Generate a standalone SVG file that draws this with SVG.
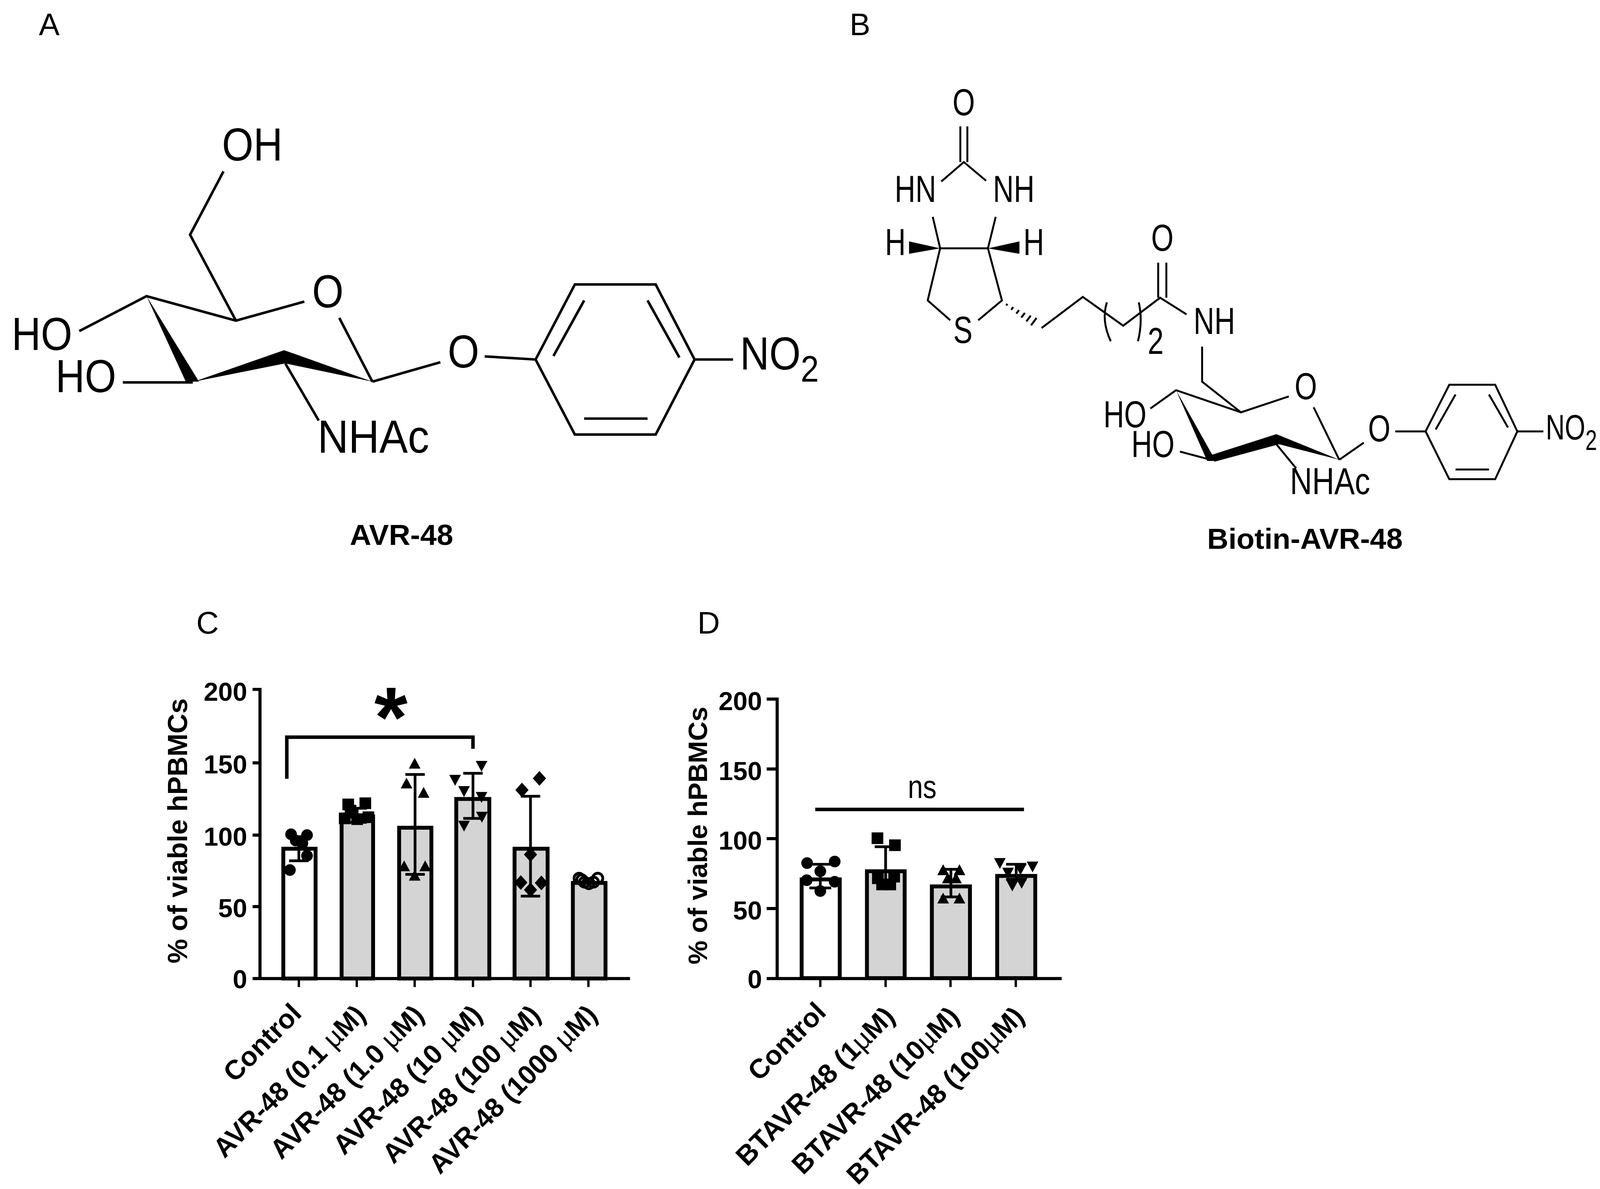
<svg xmlns="http://www.w3.org/2000/svg" width="4145" height="3044" viewBox="0 0 4145 3044">
<style>
text{font-family:"Liberation Sans",Arial,sans-serif;fill:#000}
.panel{font-size:80px}
.atom{font-size:104px}
.atomb{font-size:74px}
.name{font-size:74px;font-weight:bold}
.tick{font-size:67px;font-weight:bold;text-anchor:end}
.ylab{font-size:71px;font-weight:bold;text-anchor:middle}
.xlab{font-size:70px;font-weight:bold;text-anchor:end}
.mu{font-weight:normal}
.bond{fill:none;stroke:#000;stroke-width:6.5;stroke-linecap:butt;stroke-linejoin:miter}
.bondb{fill:none;stroke:#000;stroke-width:5;stroke-linejoin:miter}
.axis{fill:none;stroke:#000;stroke-width:8}
.tk{fill:none;stroke:#000;stroke-width:6}
.bar{stroke:#000;stroke-width:10;fill:#d4d4d4}
.ctl{fill:#fff}
.err{fill:none;stroke:#000;stroke-width:7}
.sig{fill:none;stroke:#000;stroke-width:9}
</style>
<defs>
<circle id="mc" r="15" fill="#000"/>
<circle id="mo" r="13" fill="none" stroke="#000" stroke-width="7"/>
<rect id="ms" x="-15" y="-15" width="30" height="30" fill="#000"/>
<polygon id="mu" points="0,-18 15,10 -15,10" fill="#000"/>
<polygon id="md" points="0,18 15,-10 -15,-10" fill="#000"/>
<polygon id="mk" points="0,-19 17,0 0,19 -17,0" fill="#000"/>
</defs>
<rect width="4145" height="3044" fill="#fff"/>

<g id="panel-a" transform="scale(.995)">
<text class="panel" x="100" y="90">A</text>
<g class="bond">
<path d="M575 441 489 604 607 825"/>
<path d="M783 776 607 825 377 762 204 852"/>
<path d="M316 984H496"/>
<path d="M958 982 873 818"/>
<path d="M734 935 820 1082"/>
<path d="M958 982 1133 932"/>
<path d="M1247 917 1378 925"/>
<path d="M1378 925 1479 732H1687L1787 925 1687 1118H1479Z"/>
<path d="M1424 916 1503 773M1666 773 1748 920M1503 1077H1666"/>
<path d="M1787 925H1886"/>
</g>
<polygon points="377,762 478,982 512,982" fill="#000"/>
<polygon points="499,982 731,901 958,982 734,935" fill="#000"/>
<text class="atom" transform="translate(571 413) scale(1 1.14)">OH</text>
<text class="atom" transform="translate(30 901) scale(1 1.14)">HO</text>
<text class="atom" transform="translate(143 1009) scale(1 1.14)">HO</text>
<text class="atom" transform="translate(803 791) scale(1 1.14)">O</text>
<text class="atom" style="font-size:110px" transform="translate(817 1165) scale(1 1.08)">NHAc</text>
<text class="atom" transform="translate(1152 946) scale(1 1.14)">O</text>
<text class="atom" transform="translate(1904 951) scale(1 1.14)">NO<tspan font-size="84" dy="27">2</tspan></text>
<text class="name" x="900" y="1402" textLength="266" lengthAdjust="spacingAndGlyphs">AVR-48</text>
</g>

<g id="panel-b" transform="translate(10.8 0) scale(.995)">
<text class="panel" x="2175" y="90">B</text>
<g class="bondb">
<path d="M2460 325V417M2478 325V417"/>
<path d="M2411 467 2469 417 2526 465"/>
<path d="M2389 558 2408 639H2531L2551 558"/>
<path d="M2408 639 2376 773 2434 824M2531 639 2567 773 2506 824"/>
<path d="M2669 844 2775 764 2879 838 2974 766 3042 809"/>
<path d="M2969 676V766M2990 676V766"/>
<path d="M2837 778Q2822 825 2847 878M2919 778Q2930 825 2917 878"/>
<path d="M3082 892V982L3182 1061 3305 1020"/>
<path d="M3182 1061 3015 1004 2949 1051"/>
<path d="M3369 1048 3435 1183"/>
<path d="M3108 1184 3025 1162"/>
<path d="M3273 1143 3324 1205"/>
<path d="M3435 1183 3498 1139"/>
<path d="M3579 1110H3657"/>
<path d="M3657 1110 3718 990H3836L3893 1110 3836 1233H3718Z"/>
<path d="M3683 1105 3734 1015M3820 1015 3869 1100M3734 1208H3820"/>
<path d="M3893 1110H3960"/>
<path d="M2578 786 2581 782M2591 797 2596 790M2604 807 2611 798M2617 817 2626 805M2630 827 2641 812M2642 837 2656 818"/>
</g>
<polygon points="2408,639 2328,621 2328,653" fill="#000"/>
<polygon points="2531,639 2612,621 2612,653" fill="#000"/>
<polygon points="3015,1004 3095,1186 3117,1186" fill="#000"/>
<polygon points="3101,1172 3273,1117 3435,1183 3280,1143 3114,1188" fill="#000"/>
<text class="atomb" transform="translate(2440 296) scale(1 1.3)">O</text>
<text class="atomb" transform="translate(2291 520) scale(1 1.3)">HN</text>
<text class="atomb" transform="translate(2544 520) scale(1 1.3)">NH</text>
<text class="atomb" transform="translate(2266 656) scale(1 1.3)">H</text>
<text class="atomb" transform="translate(2622 656) scale(1 1.3)">H</text>
<text class="atomb" transform="translate(2442 882) scale(1 1.3)">S</text>
<text class="atomb" transform="translate(2951 645) scale(1 1.3)">O</text>
<text class="atomb" transform="translate(3060 859) scale(1 1.3)">NH</text>
<text class="atomb" transform="translate(2942 911) scale(1 1.3)">2</text>
<text class="atomb" transform="translate(3320 1027) scale(1 1.3)">O</text>
<text class="atomb" transform="translate(2828 1099) scale(1 1.3)">HO</text>
<text class="atomb" transform="translate(2900 1176) scale(1 1.3)">HO</text>
<text class="atomb" style="font-size:79px" transform="translate(3308 1271) scale(1 1.22)">NHAc</text>
<text class="atomb" transform="translate(3509 1136) scale(1 1.3)">O</text>
<text class="atomb" style="font-size:68px" transform="translate(3966 1131) scale(1 1.35)">NO<tspan font-size="54" dy="20">2</tspan></text>
<text class="name" x="3095" y="1412" textLength="503" lengthAdjust="spacingAndGlyphs">Biotin-AVR-48</text>
</g>

<g id="panel-c">
<g transform="translate(1.9 7.7) scale(.995)">
<text class="panel" x="503" y="1622">C</text>
<rect class="bar ctl" x="727" y="2176" width="83" height="334"/>
<rect class="bar" x="877" y="2093" width="81" height="417"/>
<rect class="bar" x="1025" y="2122" width="83" height="388"/>
<rect class="bar" x="1172" y="2048" width="85" height="462"/>
<rect class="bar" x="1322" y="2176" width="85" height="334"/>
<rect class="bar" x="1472" y="2264" width="84" height="246"/>
<path class="axis" d="M648 1766H667V2510M667 1955H648M667 2141H648M667 2325H648M648 2510H1619"/>
<path class="tk" d="M767 2510V2532M916 2510V2532M1065 2510V2532M1215 2510V2532M1363 2510V2532M1512 2510V2532"/>
<text class="tick" x="634" y="1795">200</text>
<text class="tick" x="634" y="1982">150</text>
<text class="tick" x="634" y="2168">100</text>
<text class="tick" x="634" y="2352">50</text>
<text class="tick" x="634" y="2535">0</text>
<text class="ylab" transform="translate(479 2130) rotate(-90)">% of viable hPBMCs</text>
<g class="err">
<path d="M767 2145V2207M742 2145H792M742 2207H792"/>
<path d="M917 2072V2108M892 2072H942M892 2108H942"/>
<path d="M1066 1985V2242M1041 1985H1091M1041 2242H1091"/>
<path d="M1215 1982V2098M1190 1982H1240M1190 2098H1240"/>
<path d="M1363 2041V2298M1338 2041H1388M1338 2298H1388"/>
</g>
<g>
<use href="#mc" x="747" y="2139"/><use href="#mc" x="788" y="2141"/><use href="#mc" x="759" y="2155"/><use href="#mc" x="776" y="2162"/><use href="#mc" x="788" y="2194"/><use href="#mc" x="744" y="2231"/>
<use href="#ms" x="894" y="2062"/><use href="#ms" x="938" y="2059"/><use href="#ms" x="885" y="2098"/><use href="#ms" x="917" y="2100"/><use href="#ms" x="946" y="2095"/><use href="#ms" x="900" y="2078"/>
<use href="#mu" x="1065" y="1960"/><use href="#mu" x="1044" y="2011"/><use href="#mu" x="1088" y="2035"/><use href="#mu" x="1038" y="2224"/><use href="#mu" x="1092" y="2224"/><use href="#mu" x="1065" y="2248"/>
<use href="#md" x="1237" y="1960"/><use href="#md" x="1169" y="1996"/><use href="#md" x="1192" y="2025"/><use href="#md" x="1237" y="2040"/><use href="#md" x="1238" y="2091"/><use href="#md" x="1192" y="2114"/>
<use href="#mk" x="1386" y="1995"/><use href="#mk" x="1341" y="2025"/><use href="#mk" x="1363" y="2191"/><use href="#mk" x="1338" y="2263"/><use href="#mk" x="1391" y="2264"/><use href="#mk" x="1363" y="2282"/>
<use href="#mo" x="1488" y="2252"/><use href="#mo" x="1502" y="2262"/><use href="#mo" x="1513" y="2266"/><use href="#mo" x="1525" y="2262"/><use href="#mo" x="1536" y="2252"/><use href="#mo" x="1495" y="2256"/>
</g>
<path class="sig" d="M736 1996V1889H1215V1919"/>
<text x="1004" y="1914" font-size="220" font-weight="bold" text-anchor="middle">*</text>
</g>
<g transform="translate(2.5 12.4) scale(.995)">
<text class="xlab" transform="translate(777 2599) rotate(-45)">Control</text>
<text class="xlab" transform="translate(942 2603) rotate(-45)" textLength="519" lengthAdjust="spacingAndGlyphs">AVR-48 (0.1 <tspan class="mu">µ</tspan>M)</text>
<text class="xlab" transform="translate(1092 2603) rotate(-45)" textLength="524" lengthAdjust="spacingAndGlyphs">AVR-48 (1.0 <tspan class="mu">µ</tspan>M)</text>
<text class="xlab" transform="translate(1242 2603) rotate(-45)" textLength="508" lengthAdjust="spacingAndGlyphs">AVR-48 (10 <tspan class="mu">µ</tspan>M)</text>
<text class="xlab" transform="translate(1392 2603) rotate(-45)" textLength="540" lengthAdjust="spacingAndGlyphs">AVR-48 (100 <tspan class="mu">µ</tspan>M)</text>
<text class="xlab" transform="translate(1538 2603) rotate(-45)" textLength="578" lengthAdjust="spacingAndGlyphs">AVR-48 (1000 <tspan class="mu">µ</tspan>M)</text>
</g>
</g>

<g id="panel-d">
<g transform="translate(8.5 7.7) scale(.995)">
<text class="panel" x="1786" y="1622">D</text>
<rect class="bar ctl" x="2054" y="2255" width="98" height="254"/>
<rect class="bar" x="2222" y="2234" width="97" height="275"/>
<rect class="bar" x="2389" y="2273" width="98" height="236"/>
<rect class="bar" x="2557" y="2246" width="98" height="263"/>
<path class="axis" d="M1964 1791H1991V2510M1991 1971H1964M1991 2150H1964M1991 2330H1964M1964 2510H2723"/>
<path class="tk" d="M2102 2510V2532M2270 2510V2532M2437 2510V2532M2605 2510V2532"/>
<text class="tick" x="1952" y="1819">200</text>
<text class="tick" x="1952" y="1999">150</text>
<text class="tick" x="1952" y="2178">100</text>
<text class="tick" x="1952" y="2358">50</text>
<text class="tick" x="1952" y="2535">0</text>
<text class="ylab" style="font-size:69px" transform="translate(1811 2142) rotate(-90)">% of viable hPBMCs</text>
<g class="err">
<path d="M2102 2216V2277M2074 2216H2130M2074 2277H2130"/>
<path d="M2270 2171V2270M2242 2171H2298"/>
<path d="M2438 2229V2300M2412 2229H2464M2412 2300H2464"/>
<path d="M2606 2216V2255M2580 2216H2632M2580 2255H2632"/>
</g>
<g>
<use href="#mc" x="2068" y="2213"/><use href="#mc" x="2139" y="2209"/><use href="#mc" x="2102" y="2234"/><use href="#mc" x="2067" y="2257"/><use href="#mc" x="2139" y="2261"/><use href="#mc" x="2102" y="2285"/>
<use href="#ms" x="2249" y="2149"/><use href="#ms" x="2294" y="2167"/><use href="#ms" x="2250" y="2252"/><use href="#ms" x="2292" y="2248"/><use href="#ms" x="2261" y="2268"/><use href="#ms" x="2282" y="2268"/>
<use href="#mu" x="2418" y="2234"/><use href="#mu" x="2460" y="2234"/><use href="#mu" x="2430" y="2255"/><use href="#mu" x="2451" y="2255"/><use href="#mu" x="2418" y="2307"/><use href="#mu" x="2460" y="2307"/>
<use href="#md" x="2564" y="2210"/><use href="#md" x="2648" y="2219"/><use href="#md" x="2585" y="2235"/><use href="#md" x="2617" y="2226"/><use href="#md" x="2596" y="2268"/><use href="#md" x="2620" y="2261"/>
</g>
<path class="sig" d="M2089 2075H2626"/>
<text font-size="70" text-anchor="middle" transform="translate(2364 2046) scale(1 1.2)">ns</text>
</g>
<g transform="translate(9 12.4) scale(.995)">
<text class="xlab" transform="translate(2120 2596) rotate(-45)">Control</text>
<text class="xlab" transform="translate(2297 2607) rotate(-45)" textLength="543" lengthAdjust="spacingAndGlyphs">BTAVR-48 (1<tspan class="mu">µ</tspan>M)</text>
<text class="xlab" transform="translate(2463 2607) rotate(-45)" textLength="574" lengthAdjust="spacingAndGlyphs">BTAVR-48 (10<tspan class="mu">µ</tspan>M)</text>
<text class="xlab" transform="translate(2630 2607) rotate(-45)" textLength="611" lengthAdjust="spacingAndGlyphs">BTAVR-48 (100<tspan class="mu">µ</tspan>M)</text>
</g>
</g>
</svg>
